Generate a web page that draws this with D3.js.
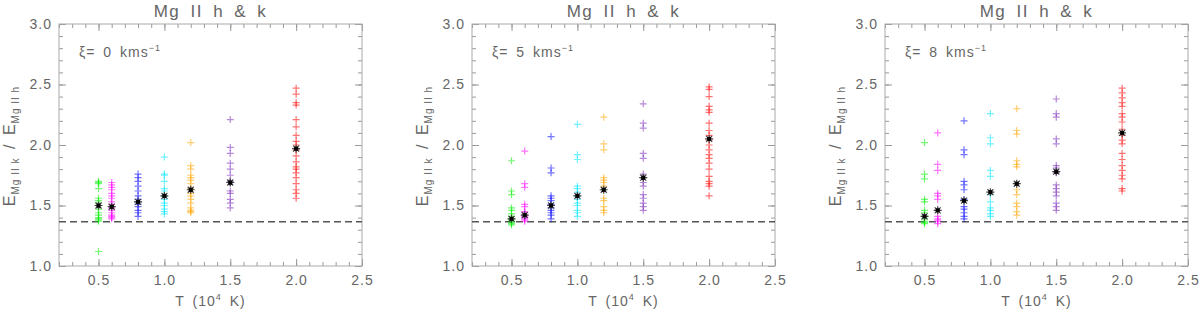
<!DOCTYPE html>
<html>
<head>
<meta charset="utf-8">
<script src="https://cdn.jsdelivr.net/npm/d3@7/dist/d3.min.js"></script>
<style>
  body { margin: 0; background: #fff; }
  text { font-family: "Liberation Sans", Arial, sans-serif; fill: #666; }
</style>
</head>
<body>
<svg id="chart" width="1200" height="315"></svg>
<script>
// temperatures (10^4 K) and the colour of each column
var temps = [0.5, 0.6, 0.8, 1.0, 1.2, 1.5, 2.0];
var colors = ["#00ee00", "#ff00ff", "#0000ff", "#00e5ff", "#ffa500", "#7a28b8", "#ff0000"];

var xiValues = [0, 5, 8];
var xTicks = [0.5, 1.0, 1.5, 2.0, 2.5];
var yTicks = [1.0, 1.5, 2.0, 2.5, 3.0];
var limitRatio = 1.365;

// E(k)/E(h) for xi = 0 km/s
var ratioXi0 = [
  [1.70, 1.69, 1.68, 1.64, 1.56, 1.54, 1.52, 1.47, 1.44, 1.42, 1.40, 1.39, 1.38, 1.37, 1.12],
  [1.69, 1.67, 1.65, 1.63, 1.60, 1.58, 1.56, 1.53, 1.51, 1.48, 1.46, 1.44, 1.42, 1.41, 1.40, 1.39],
  [1.76, 1.73, 1.70, 1.66, 1.62, 1.58, 1.55, 1.53, 1.51, 1.49, 1.46, 1.44, 1.41],
  [1.90, 1.76, 1.75, 1.70, 1.64, 1.62, 1.58, 1.55, 1.52, 1.50, 1.47, 1.45, 1.43],
  [2.02, 1.83, 1.80, 1.75, 1.73, 1.71, 1.68, 1.64, 1.60, 1.58, 1.55, 1.52, 1.48, 1.46, 1.45, 1.44],
  [2.21, 1.98, 1.93, 1.85, 1.80, 1.75, 1.70, 1.69, 1.62, 1.60, 1.55, 1.52, 1.48],
  [2.47, 2.42, 2.35, 2.33, 2.21, 2.15, 2.08, 2.03, 2.00, 1.96, 1.91, 1.86, 1.82, 1.80, 1.77, 1.73, 1.68, 1.63, 1.60, 1.56]
];
var meanXi0 = [1.50, 1.49, 1.53, 1.58, 1.63, 1.69, 1.97];

// xi = 5 km/s
var ratioXi5 = [
  [1.87, 1.62, 1.59, 1.48, 1.46, 1.43, 1.41, 1.39, 1.38, 1.37, 1.36, 1.35, 1.34],
  [1.95, 1.68, 1.65, 1.51, 1.49, 1.45, 1.44, 1.42, 1.41, 1.40, 1.39, 1.38, 1.37],
  [2.07, 1.81, 1.77, 1.58, 1.56, 1.54, 1.51, 1.48, 1.46, 1.44, 1.42, 1.39],
  [2.17, 1.92, 1.88, 1.66, 1.64, 1.61, 1.58, 1.55, 1.52, 1.50, 1.46, 1.44, 1.41],
  [2.23, 2.01, 1.96, 1.73, 1.71, 1.69, 1.66, 1.56, 1.54, 1.49, 1.46, 1.44],
  [2.34, 2.18, 2.14, 1.93, 1.89, 1.76, 1.73, 1.69, 1.66, 1.59, 1.56, 1.52, 1.49, 1.46],
  [2.48, 2.46, 2.40, 2.32, 2.29, 2.27, 2.18, 2.12, 2.08, 2.04, 2.00, 1.96, 1.92, 1.89, 1.85, 1.80, 1.74, 1.70, 1.68, 1.66, 1.58]
];
var meanXi5 = [1.39, 1.42, 1.50, 1.58, 1.63, 1.73, 2.05];

// xi = 8 km/s
var ratioXi8 = [
  [2.02, 1.76, 1.72, 1.55, 1.53, 1.46, 1.44, 1.41, 1.39, 1.37, 1.36, 1.35],
  [2.10, 1.84, 1.79, 1.60, 1.58, 1.55, 1.46, 1.41, 1.39, 1.38, 1.37, 1.35],
  [2.20, 1.96, 1.92, 1.70, 1.67, 1.63, 1.55, 1.49, 1.47, 1.44, 1.41, 1.39],
  [2.26, 2.06, 2.01, 1.79, 1.74, 1.59, 1.53, 1.48, 1.46, 1.43, 1.41],
  [2.30, 2.12, 2.09, 1.87, 1.84, 1.82, 1.63, 1.59, 1.52, 1.49, 1.45, 1.42],
  [2.38, 2.26, 2.23, 2.05, 2.01, 1.83, 1.81, 1.77, 1.67, 1.64, 1.61, 1.58, 1.52, 1.49, 1.46],
  [2.47, 2.43, 2.39, 2.35, 2.32, 2.26, 2.23, 2.19, 2.13, 2.08, 2.04, 2.01, 1.93, 1.88, 1.83, 1.79, 1.75, 1.72, 1.64, 1.62]
];
var meanXi8 = [1.41, 1.46, 1.54, 1.61, 1.68, 1.78, 2.10];

var panels = [
  {xi: xiValues[0], ratios: ratioXi0, means: meanXi0},
  {xi: xiValues[1], ratios: ratioXi5, means: meanXi5},
  {xi: xiValues[2], ratios: ratioXi8, means: meanXi8}
];

var svg = d3.select("#chart");
var w = 303, h = 242, plotTop = 24;
var lefts = [59, 472, 885];

var x = d3.scaleLinear().domain([0.2, 2.5]).range([0, w]);
var y = d3.scaleLinear().domain([1.0, 3.0]).range([h, 0]);
var minorX = d3.range(2, 26).map(function(d) { return d / 10; });
var minorY = d3.range(10, 31).map(function(d) { return d / 10; });

var plusPath = "M-3.5,0H3.5M0,-3.5V3.5";
var starPath = "M-4,0H4M0,-4V4M-3,-3L3,3M-3,3L3,-3";

panels.forEach(function(p, i) {
  var g = svg.append("g").attr("transform", "translate(" + lefts[i] + "," + plotTop + ")");

  // ticks, all pointing inward on the four sides
  function addAxis(axis, tr, size, labels) {
    var a = g.append("g").attr("transform", tr).call(axis.tickSizeInner(-size).tickSizeOuter(0));
    a.select(".domain").remove();
    a.selectAll("line").attr("stroke", "#999");
    if (!labels) a.selectAll("text").remove();
    return a;
  }
  addAxis(d3.axisBottom(x).tickValues(minorX), "translate(0," + h + ")", 4, false);
  addAxis(d3.axisTop(x).tickValues(minorX), null, 4, false);
  addAxis(d3.axisLeft(y).tickValues(minorY), null, 4, false);
  addAxis(d3.axisRight(y).tickValues(minorY), "translate(" + w + ",0)", 4, false);
  addAxis(d3.axisTop(x).tickValues(xTicks), null, 7, false);
  addAxis(d3.axisRight(y).tickValues(yTicks), "translate(" + w + ",0)", 7, false);

  var xa = addAxis(d3.axisBottom(x).tickValues(xTicks).tickFormat(d3.format(".1f")).tickPadding(9),
    "translate(0," + h + ")", 7, true);
  var ya = addAxis(d3.axisLeft(y).tickValues(yTicks).tickFormat(d3.format(".1f")).tickPadding(7),
    null, 7, true);
  xa.selectAll("text").attr("fill", "#666").style("font-size", "14px").style("letter-spacing", "1px");
  ya.selectAll("text").attr("fill", "#666").style("font-size", "14px").style("letter-spacing", "1px");

  g.append("rect").attr("width", w).attr("height", h)
    .attr("fill", "none").attr("stroke", "#aaa").attr("stroke-width", 1);

  // dashed reference line
  g.append("line")
    .attr("x1", x(0.2)).attr("x2", x(2.5))
    .attr("y1", y(limitRatio)).attr("y2", y(limitRatio))
    .attr("stroke", "#555").attr("stroke-width", 1.5)
    .attr("stroke-dasharray", "7,4");

  // scatter of ratios, one column per temperature
  temps.forEach(function(t, j) {
    g.append("g").selectAll("path")
      .data(p.ratios[j])
      .enter()
      .append("path")
      .attr("d", plusPath)
      .attr("transform", function(d) { return "translate(" + x(t) + "," + y(d) + ")"; })
      .attr("stroke", colors[j])
      .attr("stroke-width", 1.2)
      .attr("stroke-opacity", 0.55)
      .attr("fill", "none");
  });

  // mean of each column
  var m = g.append("g").selectAll("g").data(p.means).enter().append("g")
    .attr("transform", function(d, j) { return "translate(" + x(temps[j]) + "," + y(d) + ")"; });
  m.append("path").attr("d", starPath).attr("stroke", "#444").attr("stroke-width", 1.2).attr("fill", "none");
  m.append("rect").attr("x", -2).attr("y", -2).attr("width", 4).attr("height", 4).attr("fill", "#000");

  // titles
  svg.append("text")
    .attr("x", lefts[i] + w / 2).attr("y", 17)
    .attr("text-anchor", "middle")
    .style("font-size", "17px").style("letter-spacing", "1.5px").style("word-spacing", "4px")
    .text("Mg II h & k");

  var xl = svg.append("text")
    .attr("x", lefts[i] + w / 2).attr("y", 306)
    .attr("text-anchor", "middle")
    .style("font-size", "14px").style("letter-spacing", "1px").style("word-spacing", "3px");
  xl.append("tspan").text("T (10");
  xl.append("tspan").attr("dy", -6).style("font-size", "9px").text("4");
  xl.append("tspan").attr("dy", 6).text(" K)");

  var yl = svg.append("text")
    .attr("transform", "translate(" + (lefts[i] - 44) + "," + 146 + ") rotate(-90)")
    .attr("text-anchor", "middle")
    .style("font-size", "16px").style("letter-spacing", "1px");
  yl.append("tspan").text("E");
  yl.append("tspan").attr("dy", 4).style("font-size", "10px").text("Mg II k");
  yl.append("tspan").attr("dy", -4).style("word-spacing", "3px").text(" / E");
  yl.append("tspan").attr("dy", 4).style("font-size", "10px").text("Mg II h");

  var an = g.append("text")
    .attr("x", 20).attr("y", 33)
    .style("font-size", "14px").style("letter-spacing", "1px").style("word-spacing", "3px");
  an.append("tspan").text("\u03be= " + p.xi + " kms");
  an.append("tspan").attr("dy", -6).style("font-size", "9px").text("\u22121");
});
</script>
</body>
</html>
